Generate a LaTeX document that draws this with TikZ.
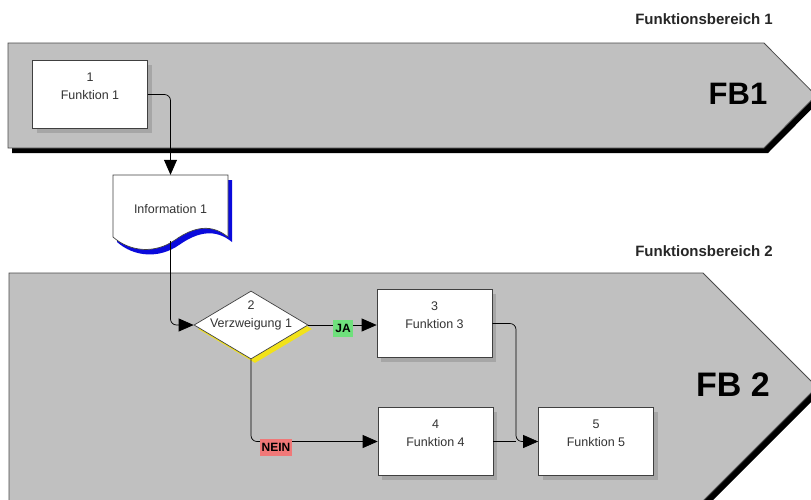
\documentclass[tikz,border=0pt]{standalone}
\usepackage{fontspec}
\setmainfont{Liberation Sans}
\usetikzlibrary{positioning,shapes.geometric,arrows.meta,shadows}
\definecolor{bandgray}{HTML}{C0C0C0}
\definecolor{edgegray}{HTML}{4A4A4A}
\definecolor{txtgray}{HTML}{333333}
\definecolor{docblue}{HTML}{0A0ADC}
\definecolor{decyellow}{HTML}{F2E21A}
\definecolor{yesgreen}{HTML}{6FE07C}
\definecolor{nored}{HTML}{F07878}

\begin{document}
\begin{tikzpicture}[
    x=1pt, y=-1pt,
    band/.style={
        fill=bandgray,
        draw=edgegray,
        line width=0.8pt,
    },
    bandshadow/.style={
        fill=black,
        shift={(4,5)},
    },
    func/.style={
        draw=black!75,
        fill=white,
        line width=0.7pt,
        minimum width=115pt,
        minimum height=68pt,
        inner sep=0pt,
        align=center,
        text=txtgray,
        font=\fontsize{12.5}{18}\selectfont,
        text height=27pt,
        text depth=18pt,
        drop shadow={shadow xshift=4pt, shadow yshift=-4pt, opacity=0.4},
    },
    decision/.style={
        diamond,
        draw=black!75,
        fill=white,
        line width=0.7pt,
        minimum width=114pt,
        minimum height=68pt,
        inner sep=0pt,
        drop shadow={shadow xshift=4pt, shadow yshift=-4pt, fill=decyellow, opacity=1},
    },
    ftext/.style={
        align=center,
        text=txtgray,
        font=\fontsize{12.5}{18}\selectfont,
        inner sep=0pt,
    },
    flow/.style={
        draw=black,
        line width=0.7pt,
        rounded corners=6pt,
        -{Triangle[length=15pt,width=13pt]},
    },
    joinline/.style={
        draw=black,
        line width=0.7pt,
    },
    lbl/.style={
        font=\bfseries\fontsize{12}{12}\selectfont,
        inner xsep=2pt,
        inner ysep=4pt,
        text height=8.6pt,
        text depth=0pt,
    },
    title/.style={
        font=\bfseries\fontsize{15}{15}\selectfont,
        text=black!85,
        anchor=east,
        inner sep=0pt,
    },
    fbtitle/.style={
        font=\bfseries\fontsize{31}{31}\selectfont,
        inner sep=0pt,
    },
]
\useasboundingbox (0,0) rectangle (811,499);
\clip (0,0) rectangle (811,499);

\fill[bandshadow] (8,43) -- (764,43) -- (816,95.5) -- (764,148) -- (8,148) -- cycle;
\draw[band] (8,43) -- (764,43) -- (816,95.5) -- (764,148) -- (8,148) -- cycle;
\fill[bandshadow] (9,273) -- (703,273) -- (817,387) -- (703,501) -- (9,501) -- cycle;
\draw[band] (9,273) -- (703,273) -- (817,387) -- (703,501) -- (9,501) -- cycle;

\node[title] (t1) at (773,19) {Funktionsbereich 1};
\node[title] (t2) at (773,251) {Funktionsbereich 2};
\node[fbtitle] (fb1) at (738,94) {FB1};
\node[fbtitle, font=\bfseries\fontsize{34}{34}\selectfont] (fb2) at (733,385) {FB 2};

\fill[docblue, shift={(4,5)}] (113,175) -- (228,175) -- (228,237)
    .. controls (212,224) and (195,226) .. (175,240)
    .. controls (155,254) and (130,252) .. (113,237) -- cycle;
\filldraw[fill=white, draw=black!75, line width=0.7pt] (113,175) -- (228,175) -- (228,237)
    .. controls (212,224) and (195,226) .. (175,240)
    .. controls (155,254) and (130,252) .. (113,237) -- cycle;
\node[ftext, minimum width=115pt, minimum height=63pt, text height=14pt, text depth=0pt] (info) at (170.5,206.5) {Information 1};

\node[func] (f1) at (90,94.5) {1\\Funktion 1};
\node[decision] (dec) at (251,325) {};
\node[ftext, text height=27pt, text depth=22pt] (dectext) at (dec.center) {2\\Verzweigung 1};
\node[func] (f3) at (434.5,323.5) {3\\Funktion 3};
\node[func] (f4) at (435.5,441.5) {4\\Funktion 4};
\node[func] (f5) at (596,441.5) {5\\Funktion 5};
\coordinate (merge) at (516,441.5);

\draw[flow] (f1.east) -| (info.north);
\draw[flow] ([yshift=-3pt]info.south) |- (dec.west);
\draw[flow] (dec.east) -- (dec.east -| f3.west);
\draw[flow] (dec.south) |- (f4.west);
\draw[flow] (f3.east) -| (merge) -- (f5.west);
\draw[joinline] (f4.east) -- (merge);

\node[lbl, fill=yesgreen] (ja) at (343,328.5) {JA};
\node[lbl, fill=nored] (nein) at (276,447.5) {NEIN};

\end{tikzpicture}
\end{document}
